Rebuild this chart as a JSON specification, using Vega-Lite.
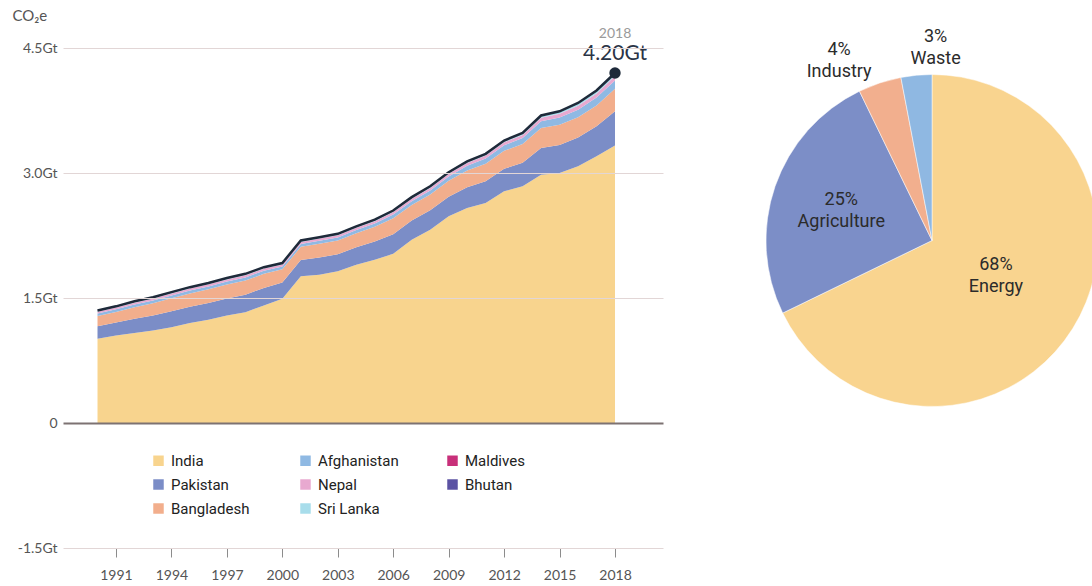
{
  "$schema": "https://vega.github.io/schema/vega-lite/v6.json",
  "background": "white",
  "padding": {"left": 12, "top": 8, "right": 0, "bottom": 0},
  "autosize": {"type": "pad"},
  "spacing": 103,
  "bounds": "flush",
  "config": {"view": {"stroke": null}, "font": "Lato"},
  "resolve": {"scale": {"color": "independent"}, "legend": {"color": "independent"}},
  "datasets": {
    "emissions": [
      {"year":1990,"country":"India","value":1.01},{"year":1990,"country":"Pakistan","value":0.150},{"year":1990,"country":"Bangladesh","value":0.125},{"year":1990,"country":"Afghanistan","value":0.030},{"year":1990,"country":"Nepal","value":0.020},{"year":1990,"country":"Sri Lanka","value":0.012},{"year":1990,"country":"Maldives","value":0.002},{"year":1990,"country":"Bhutan","value":0.001},
      {"year":1991,"country":"India","value":1.05},{"year":1991,"country":"Pakistan","value":0.155},{"year":1991,"country":"Bangladesh","value":0.128},{"year":1991,"country":"Afghanistan","value":0.031},{"year":1991,"country":"Nepal","value":0.021},{"year":1991,"country":"Sri Lanka","value":0.012},{"year":1991,"country":"Maldives","value":0.002},{"year":1991,"country":"Bhutan","value":0.001},
      {"year":1992,"country":"India","value":1.08},{"year":1992,"country":"Pakistan","value":0.170},{"year":1992,"country":"Bangladesh","value":0.140},{"year":1992,"country":"Afghanistan","value":0.032},{"year":1992,"country":"Nepal","value":0.022},{"year":1992,"country":"Sri Lanka","value":0.013},{"year":1992,"country":"Maldives","value":0.002},{"year":1992,"country":"Bhutan","value":0.001},
      {"year":1993,"country":"India","value":1.11},{"year":1993,"country":"Pakistan","value":0.180},{"year":1993,"country":"Bangladesh","value":0.148},{"year":1993,"country":"Afghanistan","value":0.033},{"year":1993,"country":"Nepal","value":0.023},{"year":1993,"country":"Sri Lanka","value":0.013},{"year":1993,"country":"Maldives","value":0.002},{"year":1993,"country":"Bhutan","value":0.001},
      {"year":1994,"country":"India","value":1.15},{"year":1994,"country":"Pakistan","value":0.190},{"year":1994,"country":"Bangladesh","value":0.156},{"year":1994,"country":"Afghanistan","value":0.034},{"year":1994,"country":"Nepal","value":0.024},{"year":1994,"country":"Sri Lanka","value":0.013},{"year":1994,"country":"Maldives","value":0.002},{"year":1994,"country":"Bhutan","value":0.001},
      {"year":1995,"country":"India","value":1.20},{"year":1995,"country":"Pakistan","value":0.195},{"year":1995,"country":"Bangladesh","value":0.160},{"year":1995,"country":"Afghanistan","value":0.035},{"year":1995,"country":"Nepal","value":0.024},{"year":1995,"country":"Sri Lanka","value":0.013},{"year":1995,"country":"Maldives","value":0.002},{"year":1995,"country":"Bhutan","value":0.001},
      {"year":1996,"country":"India","value":1.24},{"year":1996,"country":"Pakistan","value":0.200},{"year":1996,"country":"Bangladesh","value":0.164},{"year":1996,"country":"Afghanistan","value":0.035},{"year":1996,"country":"Nepal","value":0.025},{"year":1996,"country":"Sri Lanka","value":0.013},{"year":1996,"country":"Maldives","value":0.002},{"year":1996,"country":"Bhutan","value":0.001},
      {"year":1997,"country":"India","value":1.29},{"year":1997,"country":"Pakistan","value":0.205},{"year":1997,"country":"Bangladesh","value":0.167},{"year":1997,"country":"Afghanistan","value":0.036},{"year":1997,"country":"Nepal","value":0.025},{"year":1997,"country":"Sri Lanka","value":0.014},{"year":1997,"country":"Maldives","value":0.002},{"year":1997,"country":"Bhutan","value":0.001},
      {"year":1998,"country":"India","value":1.33},{"year":1998,"country":"Pakistan","value":0.210},{"year":1998,"country":"Bangladesh","value":0.170},{"year":1998,"country":"Afghanistan","value":0.037},{"year":1998,"country":"Nepal","value":0.026},{"year":1998,"country":"Sri Lanka","value":0.014},{"year":1998,"country":"Maldives","value":0.002},{"year":1998,"country":"Bhutan","value":0.001},
      {"year":1999,"country":"India","value":1.41},{"year":1999,"country":"Pakistan","value":0.210},{"year":1999,"country":"Bangladesh","value":0.170},{"year":1999,"country":"Afghanistan","value":0.037},{"year":1999,"country":"Nepal","value":0.026},{"year":1999,"country":"Sri Lanka","value":0.014},{"year":1999,"country":"Maldives","value":0.002},{"year":1999,"country":"Bhutan","value":0.001},
      {"year":2000,"country":"India","value":1.49},{"year":2000,"country":"Pakistan","value":0.195},{"year":2000,"country":"Bangladesh","value":0.160},{"year":2000,"country":"Afghanistan","value":0.034},{"year":2000,"country":"Nepal","value":0.024},{"year":2000,"country":"Sri Lanka","value":0.014},{"year":2000,"country":"Maldives","value":0.002},{"year":2000,"country":"Bhutan","value":0.001},
      {"year":2001,"country":"India","value":1.76},{"year":2001,"country":"Pakistan","value":0.195},{"year":2001,"country":"Bangladesh","value":0.160},{"year":2001,"country":"Afghanistan","value":0.034},{"year":2001,"country":"Nepal","value":0.024},{"year":2001,"country":"Sri Lanka","value":0.014},{"year":2001,"country":"Maldives","value":0.002},{"year":2001,"country":"Bhutan","value":0.001},
      {"year":2002,"country":"India","value":1.78},{"year":2002,"country":"Pakistan","value":0.205},{"year":2002,"country":"Bangladesh","value":0.166},{"year":2002,"country":"Afghanistan","value":0.036},{"year":2002,"country":"Nepal","value":0.026},{"year":2002,"country":"Sri Lanka","value":0.014},{"year":2002,"country":"Maldives","value":0.002},{"year":2002,"country":"Bhutan","value":0.001},
      {"year":2003,"country":"India","value":1.82},{"year":2003,"country":"Pakistan","value":0.205},{"year":2003,"country":"Bangladesh","value":0.166},{"year":2003,"country":"Afghanistan","value":0.036},{"year":2003,"country":"Nepal","value":0.026},{"year":2003,"country":"Sri Lanka","value":0.014},{"year":2003,"country":"Maldives","value":0.002},{"year":2003,"country":"Bhutan","value":0.001},
      {"year":2004,"country":"India","value":1.90},{"year":2004,"country":"Pakistan","value":0.208},{"year":2004,"country":"Bangladesh","value":0.170},{"year":2004,"country":"Afghanistan","value":0.038},{"year":2004,"country":"Nepal","value":0.027},{"year":2004,"country":"Sri Lanka","value":0.014},{"year":2004,"country":"Maldives","value":0.002},{"year":2004,"country":"Bhutan","value":0.001},
      {"year":2005,"country":"India","value":1.96},{"year":2005,"country":"Pakistan","value":0.218},{"year":2005,"country":"Bangladesh","value":0.176},{"year":2005,"country":"Afghanistan","value":0.040},{"year":2005,"country":"Nepal","value":0.028},{"year":2005,"country":"Sri Lanka","value":0.015},{"year":2005,"country":"Maldives","value":0.002},{"year":2005,"country":"Bhutan","value":0.001},
      {"year":2006,"country":"India","value":2.03},{"year":2006,"country":"Pakistan","value":0.236},{"year":2006,"country":"Bangladesh","value":0.190},{"year":2006,"country":"Afghanistan","value":0.045},{"year":2006,"country":"Nepal","value":0.030},{"year":2006,"country":"Sri Lanka","value":0.016},{"year":2006,"country":"Maldives","value":0.002},{"year":2006,"country":"Bhutan","value":0.001},
      {"year":2007,"country":"India","value":2.20},{"year":2007,"country":"Pakistan","value":0.230},{"year":2007,"country":"Bangladesh","value":0.186},{"year":2007,"country":"Afghanistan","value":0.045},{"year":2007,"country":"Nepal","value":0.030},{"year":2007,"country":"Sri Lanka","value":0.016},{"year":2007,"country":"Maldives","value":0.002},{"year":2007,"country":"Bhutan","value":0.001},
      {"year":2008,"country":"India","value":2.32},{"year":2008,"country":"Pakistan","value":0.232},{"year":2008,"country":"Bangladesh","value":0.190},{"year":2008,"country":"Afghanistan","value":0.048},{"year":2008,"country":"Nepal","value":0.031},{"year":2008,"country":"Sri Lanka","value":0.016},{"year":2008,"country":"Maldives","value":0.002},{"year":2008,"country":"Bhutan","value":0.001},
      {"year":2009,"country":"India","value":2.48},{"year":2009,"country":"Pakistan","value":0.235},{"year":2009,"country":"Bangladesh","value":0.192},{"year":2009,"country":"Afghanistan","value":0.052},{"year":2009,"country":"Nepal","value":0.032},{"year":2009,"country":"Sri Lanka","value":0.016},{"year":2009,"country":"Maldives","value":0.002},{"year":2009,"country":"Bhutan","value":0.001},
      {"year":2010,"country":"India","value":2.58},{"year":2010,"country":"Pakistan","value":0.250},{"year":2010,"country":"Bangladesh","value":0.200},{"year":2010,"country":"Afghanistan","value":0.057},{"year":2010,"country":"Nepal","value":0.033},{"year":2010,"country":"Sri Lanka","value":0.017},{"year":2010,"country":"Maldives","value":0.002},{"year":2010,"country":"Bhutan","value":0.001},
      {"year":2011,"country":"India","value":2.64},{"year":2011,"country":"Pakistan","value":0.262},{"year":2011,"country":"Bangladesh","value":0.210},{"year":2011,"country":"Afghanistan","value":0.062},{"year":2011,"country":"Nepal","value":0.035},{"year":2011,"country":"Sri Lanka","value":0.018},{"year":2011,"country":"Maldives","value":0.002},{"year":2011,"country":"Bhutan","value":0.001},
      {"year":2012,"country":"India","value":2.78},{"year":2012,"country":"Pakistan","value":0.270},{"year":2012,"country":"Bangladesh","value":0.216},{"year":2012,"country":"Afghanistan","value":0.067},{"year":2012,"country":"Nepal","value":0.036},{"year":2012,"country":"Sri Lanka","value":0.018},{"year":2012,"country":"Maldives","value":0.002},{"year":2012,"country":"Bhutan","value":0.001},
      {"year":2013,"country":"India","value":2.84},{"year":2013,"country":"Pakistan","value":0.282},{"year":2013,"country":"Bangladesh","value":0.225},{"year":2013,"country":"Afghanistan","value":0.072},{"year":2013,"country":"Nepal","value":0.038},{"year":2013,"country":"Sri Lanka","value":0.020},{"year":2013,"country":"Maldives","value":0.002},{"year":2013,"country":"Bhutan","value":0.001},
      {"year":2014,"country":"India","value":2.98},{"year":2014,"country":"Pakistan","value":0.320},{"year":2014,"country":"Bangladesh","value":0.240},{"year":2014,"country":"Afghanistan","value":0.080},{"year":2014,"country":"Nepal","value":0.042},{"year":2014,"country":"Sri Lanka","value":0.025},{"year":2014,"country":"Maldives","value":0.002},{"year":2014,"country":"Bhutan","value":0.001},
      {"year":2015,"country":"India","value":3.00},{"year":2015,"country":"Pakistan","value":0.335},{"year":2015,"country":"Bangladesh","value":0.245},{"year":2015,"country":"Afghanistan","value":0.085},{"year":2015,"country":"Nepal","value":0.045},{"year":2015,"country":"Sri Lanka","value":0.027},{"year":2015,"country":"Maldives","value":0.002},{"year":2015,"country":"Bhutan","value":0.001},
      {"year":2016,"country":"India","value":3.08},{"year":2016,"country":"Pakistan","value":0.345},{"year":2016,"country":"Bangladesh","value":0.245},{"year":2016,"country":"Afghanistan","value":0.090},{"year":2016,"country":"Nepal","value":0.048},{"year":2016,"country":"Sri Lanka","value":0.029},{"year":2016,"country":"Maldives","value":0.002},{"year":2016,"country":"Bhutan","value":0.001},
      {"year":2017,"country":"India","value":3.20},{"year":2017,"country":"Pakistan","value":0.360},{"year":2017,"country":"Bangladesh","value":0.250},{"year":2017,"country":"Afghanistan","value":0.095},{"year":2017,"country":"Nepal","value":0.050},{"year":2017,"country":"Sri Lanka","value":0.032},{"year":2017,"country":"Maldives","value":0.002},{"year":2017,"country":"Bhutan","value":0.001},
      {"year":2018,"country":"India","value":3.33},{"year":2018,"country":"Pakistan","value":0.410},{"year":2018,"country":"Bangladesh","value":0.270},{"year":2018,"country":"Afghanistan","value":0.100},{"year":2018,"country":"Nepal","value":0.055},{"year":2018,"country":"Sri Lanka","value":0.032},{"year":2018,"country":"Maldives","value":0.002},{"year":2018,"country":"Bhutan","value":0.001}
    ],
    "annot": [{"year": 2018, "value": 4.20, "label": "4.20Gt", "yearLabel": "2018"}],
    "sectors": [
      {"sector": "Energy", "pct": 67.8, "label": "68%\nEnergy"},
      {"sector": "Agriculture", "pct": 25.0, "label": "25%\nAgriculture"},
      {"sector": "Industry", "pct": 4.2, "label": "4%\nIndustry"},
      {"sector": "Waste", "pct": 3.0, "label": "3%\nWaste"}
    ]
  },
  "hconcat": [
    {
      "width": 600,
      "height": 500,
      "layer": [
        {
          "data": {"name": "emissions"},
          "transform": [{"joinaggregate": [{"op": "mean", "field": "value", "as": "avgValue"}], "groupby": ["country"]}],
          "mark": {"type": "area", "opacity": 1},
          "encoding": {
            "x": {
              "field": "year", "type": "quantitative",
              "scale": {"domain": [1988.133, 2020.597], "nice": false, "zero": false},
              "axis": {
                "values": [1991, 1994, 1997, 2000, 2003, 2006, 2009, 2012, 2015, 2018],
                "format": "d", "title": null, "domain": false, "grid": false,
                "ticks": true, "tickColor": "#8c8c8c", "tickSize": 9, "tickWidth": 1,
                "labelPadding": 11, "labelFont": "Lato", "labelFontSize": 14, "labelColor": "#555555"
              }
            },
            "y": {
              "field": "value", "type": "quantitative", "stack": "zero",
              "scale": {"domain": [-1.5, 4.5], "nice": false},
              "axis": {
                "values": [-1.5, 0, 1.5, 3, 4.5],
                "title": "CO₂e", "titleAngle": 0, "titleAlign": "left", "titleBaseline": "middle",
                "titleX": -51, "titleY": -33, "titleFont": "Lato", "titleFontSize": 15,
                "titleFontWeight": "normal", "titleColor": "#555555",
                "labelExpr": "datum.value === 0 ? '0' : (datum.value < 0 ? '-' : '') + format(abs(datum.value), '.1f') + 'Gt'",
                "labelFont": "Lato", "labelFontSize": 14, "labelColor": "#555555", "labelPadding": 6,
                "domain": false, "ticks": false, "zindex": 1,
                "gridColor": {"condition": {"test": "datum.value === 0", "value": "#7d7272"}, "value": "#e2d6d6"},
                "gridWidth": {"condition": {"test": "datum.value === 0", "value": 2}, "value": 1}
              }
            },
            "color": {
              "field": "country", "type": "nominal",
              "scale": {
                "domain": ["India", "Pakistan", "Bangladesh", "Afghanistan", "Nepal", "Sri Lanka", "Maldives", "Bhutan"],
                "range": ["#f8d48e", "#7b8dc7", "#f2ae8c", "#8fb9e3", "#e8a9d0", "#a8ddeb", "#c8307a", "#5b52a3"]
              },
              "legend": {
                "orient": "none", "legendX": 88, "legendY": 405, "columns": 3, "title": null,
                "symbolType": "square", "symbolSize": 110, "symbolStrokeWidth": 0, "symbolOpacity": 1,
                "labelFont": "Roboto", "labelFontSize": 15, "labelColor": "#222222", "labelOffset": 5,
                "columnPadding": 46, "rowPadding": 8, "gridAlign": "all", "padding": 0
              }
            },
            "order": {"field": "avgValue", "type": "quantitative", "sort": "descending"}
          }
        },
        {
          "data": {"name": "emissions"},
          "mark": {"type": "line", "color": "#1e2a3a", "strokeWidth": 2.5},
          "encoding": {
            "x": {"field": "year", "type": "quantitative"},
            "y": {"aggregate": "sum", "field": "value", "type": "quantitative"}
          }
        },
        {
          "data": {"name": "annot"},
          "mark": {"type": "point", "filled": true, "size": 130, "color": "#1e2a3a", "opacity": 1},
          "encoding": {
            "x": {"field": "year", "type": "quantitative"},
            "y": {"field": "value", "type": "quantitative"}
          }
        },
        {
          "data": {"name": "annot"},
          "mark": {"type": "text", "dy": -39, "fontSize": 14, "color": "#9a9a9a", "font": "Lato"},
          "encoding": {
            "x": {"field": "year", "type": "quantitative"},
            "y": {"field": "value", "type": "quantitative"},
            "text": {"field": "yearLabel", "type": "nominal"}
          }
        },
        {
          "data": {"name": "annot"},
          "mark": {"type": "text", "dy": -19, "fontSize": 21, "color": "#2a3446", "font": "Lato"},
          "encoding": {
            "x": {"field": "year", "type": "quantitative"},
            "y": {"field": "value", "type": "quantitative"},
            "text": {"field": "label", "type": "nominal"}
          }
        }
      ]
    },
    {
      "width": 332,
      "height": 385,
      "data": {"name": "sectors"},
      "encoding": {
        "theta": {"field": "pct", "type": "quantitative", "stack": true},
        "order": {"field": "pct", "type": "quantitative", "sort": "descending"}
      },
      "layer": [
        {
          "mark": {"type": "arc", "stroke": "white", "strokeWidth": 0.5},
          "encoding": {
            "color": {
              "field": "sector", "type": "nominal",
              "scale": {"domain": ["Energy", "Agriculture", "Industry", "Waste"], "range": ["#f9d48f", "#7c8ec7", "#f2af8e", "#8fb8e2"]},
              "legend": null
            }
          }
        },
        {
          "mark": {"type": "text", "radius": 73, "dx": 2, "dy": -14, "lineBreak": "\n", "fontSize": 18, "lineHeight": 22, "font": "Roboto", "color": "#2b2b2b"},
          "encoding": {"text": {"condition": {"test": "datum.sector === 'Energy'", "field": "label", "type": "nominal"}, "value": ""}}
        },
        {
          "mark": {"type": "text", "radius": 96, "dy": -9, "lineBreak": "\n", "fontSize": 18, "lineHeight": 22, "font": "Roboto", "color": "#2b2b2b"},
          "encoding": {"text": {"condition": {"test": "datum.sector === 'Agriculture'", "field": "label", "type": "nominal"}, "value": ""}}
        },
        {
          "mark": {"type": "text", "radius": 190, "dx": -33, "dy": -10, "lineBreak": "\n", "fontSize": 18, "lineHeight": 22, "font": "Roboto", "color": "#2b2b2b"},
          "encoding": {"text": {"condition": {"test": "datum.sector === 'Industry'", "field": "label", "type": "nominal"}, "value": ""}}
        },
        {
          "mark": {"type": "text", "radius": 195, "dx": 22, "dy": -9, "lineBreak": "\n", "fontSize": 18, "lineHeight": 22, "font": "Roboto", "color": "#2b2b2b"},
          "encoding": {"text": {"condition": {"test": "datum.sector === 'Waste'", "field": "label", "type": "nominal"}, "value": ""}}
        }
      ]
    }
  ]
}
